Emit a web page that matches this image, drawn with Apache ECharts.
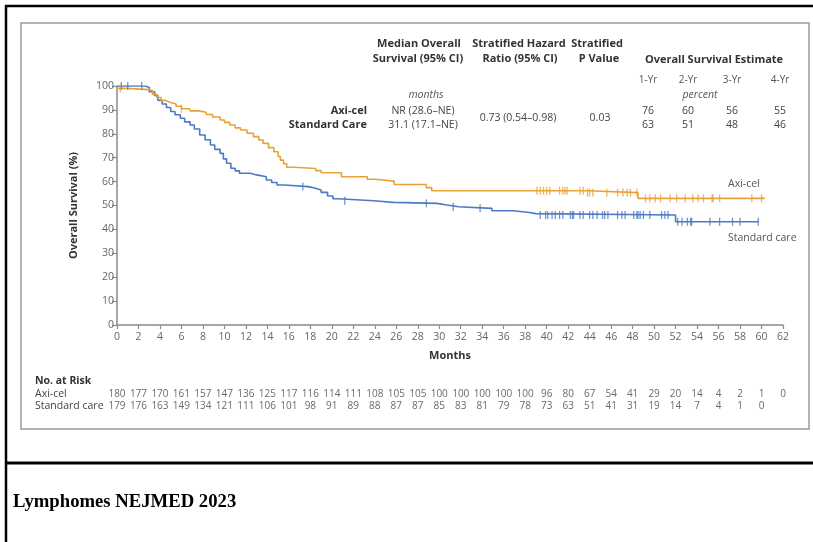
<!DOCTYPE html>
<html><head><meta charset="utf-8">
<script src="https://cdn.jsdelivr.net/npm/echarts@6/dist/echarts.min.js"></script>
<style>html,body{margin:0;padding:0;background:#fff}#c{width:813px;height:542px}</style>
</head><body><div id="c"></div>
<script>
// ---------- data ----------
const xTicks = [0,2,4,6,8,10,12,14,16,18,20,22,24,26,28,30,32,34,36,38,40,42,44,46,48,50,52,54,56,58,60,62];
const yTicks = [0,10,20,30,40,50,60,70,80,90,100];
const axiAtRisk = [180,177,170,161,157,147,136,125,117,116,114,111,108,105,105,100,100,100,100,100,96,80,67,54,41,29,20,14,4,2,1,0];
const socAtRisk = [179,176,163,149,134,121,111,106,101,98,91,89,88,87,87,85,83,81,79,78,73,63,51,41,31,19,14,7,4,1,0];

const axiTimes = [0,0.8,3.0,3.3,3.7,4.1,4.5,4.9,5.5,6.0,6.8,7.6,8.3,8.9,9.6,10.0,10.5,11.0,11.5,12.1,12.7,13.2,13.6,14.1,14.6,15.0,15.2,15.5,15.8,16.5,18.5,19.0,20.9,23.3,24.0,25.8,28.8,29.3,43.8,48.5,60.3];
const axiSurv  = [99,98.5,98,96.5,95.2,94,93.2,92.5,91.5,90.5,89.6,89,88.1,87,85.8,84.8,83.7,82.5,81.6,80.2,78.8,77.4,76,74.2,72.5,70.5,69,67.5,66,65.5,64.6,63.7,62,61,60.2,58.8,57.5,56.2,55.4,53,53];
const socTimes = [0,2.6,3.0,3.5,3.8,4.2,4.6,5.0,5.4,5.9,6.3,6.8,7.2,7.7,8.2,8.7,9.1,9.6,9.9,10.2,10.6,11.0,11.4,12.4,13.0,13.9,14.4,14.9,15.6,17.8,18.4,19.0,19.6,20.1,20.6,23.9,25.7,29.8,30.7,31.8,34.9,36.9,38.4,39.0,52.0,59.7];
const socSurv  = [100,99.4,97.6,96,94,92.5,91,89.3,88,86.5,85,83.7,82,79.5,77.5,75.3,73.5,71.8,69.5,67.7,65.6,64.5,63.5,62.8,62,60.7,59.6,58.6,57.9,57.3,56.5,55.5,54,52.8,52,51.3,50.9,50.2,49.5,48.8,47.8,47.1,46.6,46,43.2,43.2];

const axiCensor = [0.3,6.0,39.1,39.4,39.7,40.0,40.3,41.2,41.5,41.7,41.9,43.1,43.4,43.8,44.0,44.3,45.6,46.6,47.1,47.5,47.8,48.4,49.2,49.6,50.1,50.6,51.5,52.1,52.9,53.6,54.1,54.6,55.4,55.5,56.1,59.1,60.0];
const socCensor = [0.4,1.0,2.3,17.3,21.2,28.8,31.3,33.8,39.4,39.9,40.1,40.5,40.8,41.2,41.5,42.2,42.4,42.5,43.1,43.4,44.0,44.3,44.7,45.2,45.4,45.7,46.6,47.0,47.3,48.1,48.4,48.5,48.7,49.0,49.6,50.7,51.0,51.3,52.2,52.6,53.1,53.4,53.5,55.2,56.1,57.3,58.0,59.7];

const estYears = ['1-Yr','2-Yr','3-Yr','4-Yr'];
const axiEst = [76,60,56,55];
const socEst = [63,51,48,46];

// ---------- helpers ----------
const ORANGE = '#E8A23A', BLUE = '#4B7BC3';
const FONT = '"Open Sans", "Noto Sans", sans-serif';
function stepAt(times, surv, t){ let v = surv[0]; for (let i=0;i<times.length;i++){ if (times[i] <= t) v = surv[i]; } return v; }
const zip = (a,b) => a.map((v,i)=>[v,b[i]]);

function txt(text, x, y, opt){
  opt = opt || {};
  return { type:'text', z:100, style:{ text, x, y, align: opt.align||'center', verticalAlign:'middle',
    font: (opt.style||'') + ' ' + (opt.weight||'normal') + ' ' + (opt.size||11) + 'px ' + (opt.family||FONT),
    fill: opt.fill||'#333' } };
}

const graphics = [
  { type:'line', shape:{x1:6, y1:5, x2:6, y2:542}, style:{stroke:'#000', lineWidth:2.5} },
  { type:'line', shape:{x1:5, y1:6, x2:813, y2:6}, style:{stroke:'#000', lineWidth:2.5} },
  { type:'line', shape:{x1:5, y1:463, x2:813, y2:463}, style:{stroke:'#000', lineWidth:3} },
  { type:'rect', shape:{x:21, y:23, width:788, height:406}, style:{stroke:'#9a9a9a', lineWidth:1.5, fill:'none'} },
  txt('Lymphomes NEJMED 2023', 13, 502, {align:'left', weight:'bold', size:18.7, family:'"Liberation Serif", "Times New Roman", serif', fill:'#000'}),
  // header
  txt('Median Overall', 419, 44, {weight:'bold'}),
  txt('Survival (95% CI)', 418, 59, {weight:'bold'}),
  txt('Stratified Hazard', 519, 44, {weight:'bold'}),
  txt('Ratio (95% CI)', 520, 59, {weight:'bold'}),
  txt('Stratified', 597, 44, {weight:'bold'}),
  txt('P Value', 599, 59, {weight:'bold'}),
  txt('Overall Survival Estimate', 714, 60, {weight:'bold'}),
  txt('months', 426, 95, {style:'italic', size:10.5, fill:'#555'}),
  txt('percent', 700, 95, {style:'italic', size:10.5, fill:'#555'}),
  txt('Axi-cel', 367, 111, {align:'right', weight:'bold'}),
  txt('Standard Care', 367, 125, {align:'right', weight:'bold'}),
  txt('NR (28.6\u2013NE)', 423, 111, {size:10.5, fill:'#444'}),
  txt('31.1 (17.1\u2013NE)', 423, 125, {size:10.5, fill:'#444'}),
  txt('0.73 (0.54\u20130.98)', 518, 118, {size:10.5, fill:'#444'}),
  txt('0.03', 600, 118, {size:10.5, fill:'#444'}),
  // curve labels
  txt('Axi-cel', 728, 184, {align:'left', size:10.5, fill:'#555'}),
  txt('Standard care', 728, 238, {align:'left', size:10.5, fill:'#555'}),
  // at-risk labels
  txt('No. at Risk', 35, 381, {align:'left', weight:'bold', size:10.5}),
  txt('Axi-cel', 35, 394.5, {align:'left', size:10.5, fill:'#444'}),
  txt('Standard care', 35, 406.5, {align:'left', size:10.5, fill:'#444'})
];
const estCols = [648, 688, 732, 780];
estYears.forEach((y,i)=>{
  graphics.push(txt(y, estCols[i], 80, {size:10, fill:'#555'}));
  graphics.push(txt(String(axiEst[i]), estCols[i], 111, {size:10.5, fill:'#444'}));
  graphics.push(txt(String(socEst[i]), estCols[i], 125, {size:10.5, fill:'#444'}));
});

const chart = echarts.init(document.getElementById('c'));
chart.setOption({
  animation:false,
  backgroundColor:'#fff',
  grid:[
    {left:117, top:86, width:666, height:239},
    {left:117, top:394.5, width:666, height:12}
  ],
  xAxis:[
    {type:'value', gridIndex:0, min:0, max:62, interval:2,
     name:'Months', nameLocation:'middle', nameGap:25,
     nameTextStyle:{fontFamily:FONT, fontSize:11, fontWeight:'bold', color:'#333'},
     axisLine:{lineStyle:{color:'#8a8a8a', width:1.5}},
     axisTick:{show:true, length:4, lineStyle:{color:'#8a8a8a', width:1.2}},
     axisLabel:{fontFamily:FONT, fontSize:10.5, color:'#666', margin:7},
     splitLine:{show:false}},
    {type:'value', gridIndex:1, min:0, max:62, show:false}
  ],
  yAxis:[
    {type:'value', gridIndex:0, min:0, max:100, interval:10,
     name:'Overall Survival (%)', nameLocation:'middle', nameGap:38, nameRotate:90,
     nameTextStyle:{fontFamily:FONT, fontSize:11, fontWeight:'bold', color:'#333'},
     axisLine:{show:true, lineStyle:{color:'#8a8a8a', width:1.5}},
     axisTick:{show:true, length:5, lineStyle:{color:'#8a8a8a', width:1.2}},
     axisLabel:{fontFamily:FONT, fontSize:10.5, color:'#666', margin:3},
     splitLine:{show:false}},
    {type:'value', gridIndex:1, min:0, max:1, inverse:true, show:false}
  ],
  series:[
    {type:'line', step:'end', data:zip(socTimes, socSurv), symbol:'none', lineStyle:{color:BLUE, width:1.6}, z:3},
    {type:'line', step:'end', data:zip(axiTimes, axiSurv), symbol:'none', lineStyle:{color:ORANGE, width:1.6}, z:4},
    {type:'scatter', data:socCensor.map(t=>[t, stepAt(socTimes, socSurv, t)]), symbol:'rect', symbolSize:[1.3,8], itemStyle:{color:BLUE}, z:5},
    {type:'scatter', data:axiCensor.map(t=>[t, stepAt(axiTimes, axiSurv, t)]), symbol:'rect', symbolSize:[1.3,8], itemStyle:{color:ORANGE}, z:6},
    {type:'scatter', xAxisIndex:1, yAxisIndex:1, symbolSize:1, itemStyle:{color:'rgba(0,0,0,0)'},
     data:axiAtRisk.map((v,i)=>[xTicks[i], 0, v]),
     label:{show:true, position:'inside', formatter:p=>p.value[2], fontFamily:FONT, fontSize:10, color:'#444'}},
    {type:'scatter', xAxisIndex:1, yAxisIndex:1, symbolSize:1, itemStyle:{color:'rgba(0,0,0,0)'},
     data:socAtRisk.map((v,i)=>[xTicks[i], 1, v]),
     label:{show:true, position:'inside', formatter:p=>p.value[2], fontFamily:FONT, fontSize:10, color:'#444'}}
  ],
  graphic: graphics
});
</script></body></html>
